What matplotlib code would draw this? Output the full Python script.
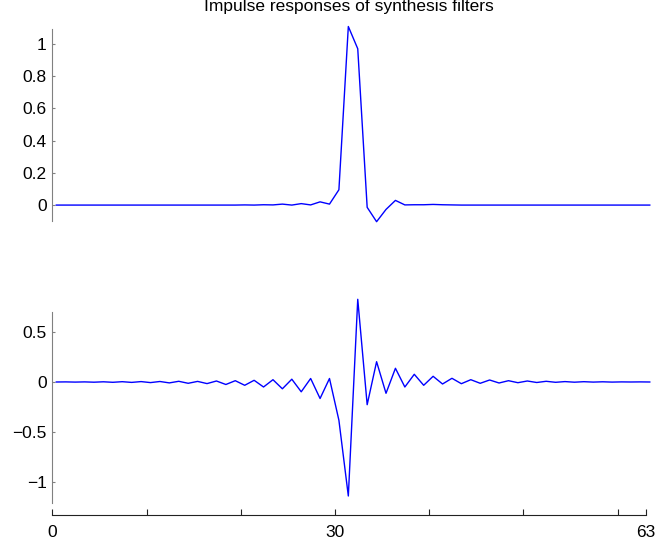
import matplotlib
import matplotlib.pyplot as plt
import matplotlib.transforms as mtransforms
import numpy as np
matplotlib.use('Agg')

plt.rcParams['font.family'] = ['Liberation Sans', 'DejaVu Sans']

# sample index 0..63
n = np.arange(64)

# lowpass synthesis filter (top)
h_low = [0.0, 0.0, 0.0, 0.0, 0.0, 0.0, 0.0, 0.0, 0.0, 0.0,
         0.0, 0.0, 0.0, 0.0, 0.0, 0.0, 0.0, 0.0, 0.0, 0.0,
         0.001, 0.0, 0.002, 0.001, 0.006, 0.0, 0.009, 0.001, 0.02, 0.006,
         0.095, 1.107, 0.969, -0.014, -0.103, -0.027, 0.029, 0.001, 0.002, 0.002,
         0.004, 0.002, 0.001, 0.0, 0.0, 0.0, 0.0, 0.0, 0.0, 0.0,
         0.0, 0.0, 0.0, 0.0, 0.0, 0.0, 0.0, 0.0, 0.0, 0.0,
         0.0, 0.0, 0.0, 0.0]

# highpass synthesis filter (bottom)
h_high = [0.0, 0.001, -0.001, 0.001, -0.002, 0.002, -0.003, 0.003, -0.004, 0.004,
          -0.006, 0.005, -0.009, 0.007, -0.013, 0.006, -0.016, 0.01, -0.025, 0.013,
          -0.033, 0.017, -0.05, 0.023, -0.068, 0.028, -0.098, 0.035, -0.165, 0.035,
          -0.383, -1.14, 0.827, -0.227, 0.203, -0.113, 0.137, -0.05, 0.077, -0.033,
          0.057, -0.02, 0.037, -0.017, 0.023, -0.013, 0.02, -0.01, 0.013, -0.007,
          0.01, -0.005, 0.007, -0.003, 0.004, -0.002, 0.003, -0.001, 0.002, -0.001,
          0.001, 0.0, 0.001, 0.0]

top_yticks = [0, 0.2, 0.4, 0.6, 0.8, 1]
top_ylabels = ['0', '0.2', '0.4', '0.6', '0.8', '1']
bot_yticks = [-1, -0.5, 0, 0.5]
bot_ylabels = ['\u22121', '\u22120.5', '0', '0.5']
xticks = [0, 10, 20, 30, 40, 50, 60, 63]
xlabels = ['0', '', '', '30', '', '', '', '63']

fs = 12.5
gray = '#808080'

fig = plt.figure(figsize=(6.62, 5.49), dpi=100)
ax1 = fig.add_axes([0.079, 0.5956, 0.8965, 0.357])
ax2 = fig.add_axes([0.079, 0.0838, 0.8965, 0.3734])

# the curves sit a few pixels right of the axis ticks in the original
shift = mtransforms.ScaledTranslation(4 / 100, 0, fig.dpi_scale_trans)

ax1.plot(n, h_low, color='#0000ff', lw=1.0, clip_on=False,
         transform=ax1.transData + shift)
ax1.set_xlim(0, 63)
ax1.set_ylim(-0.105, 1.11)
ax1.set_title('Impulse responses of synthesis filters', fontsize=fs, pad=10.8)
for s in ['top', 'right', 'bottom']:
    ax1.spines[s].set_visible(False)
ax1.spines['left'].set_color(gray)
ax1.spines['left'].set_bounds(-0.099, 1.093)
ax1.set_xticks([])
ax1.set_yticks(top_yticks)
ax1.set_yticklabels(top_ylabels)
ax1.tick_params(axis='y', direction='in', length=2.5, color=gray, labelsize=fs, pad=4)

ax2.plot(n, h_high, color='#0000ff', lw=1.0, clip_on=False,
         transform=ax2.transData + shift)
ax2.set_xlim(0, 63)
ax2.set_ylim(-1.21, 0.84)
for s in ['top', 'right']:
    ax2.spines[s].set_visible(False)
ax2.spines['left'].set_color(gray)
ax2.spines['left'].set_bounds(-1.21, 0.70)
ax2.spines['bottom'].set_position(('outward', 8.6))
ax2.spines['bottom'].set_bounds(0, 63)
ax2.spines['bottom'].set_color('#222222')
ax2.set_yticks(bot_yticks)
ax2.set_yticklabels(bot_ylabels)
ax2.set_xticks(xticks)
ax2.set_xticklabels(xlabels)
ax2.tick_params(axis='y', direction='in', length=2.5, color=gray, labelsize=fs, pad=4)
ax2.tick_params(axis='x', direction='in', length=4, color='#222222', labelsize=fs, pad=7)

fig.savefig('out.png', dpi=100)
plt.close(fig)
